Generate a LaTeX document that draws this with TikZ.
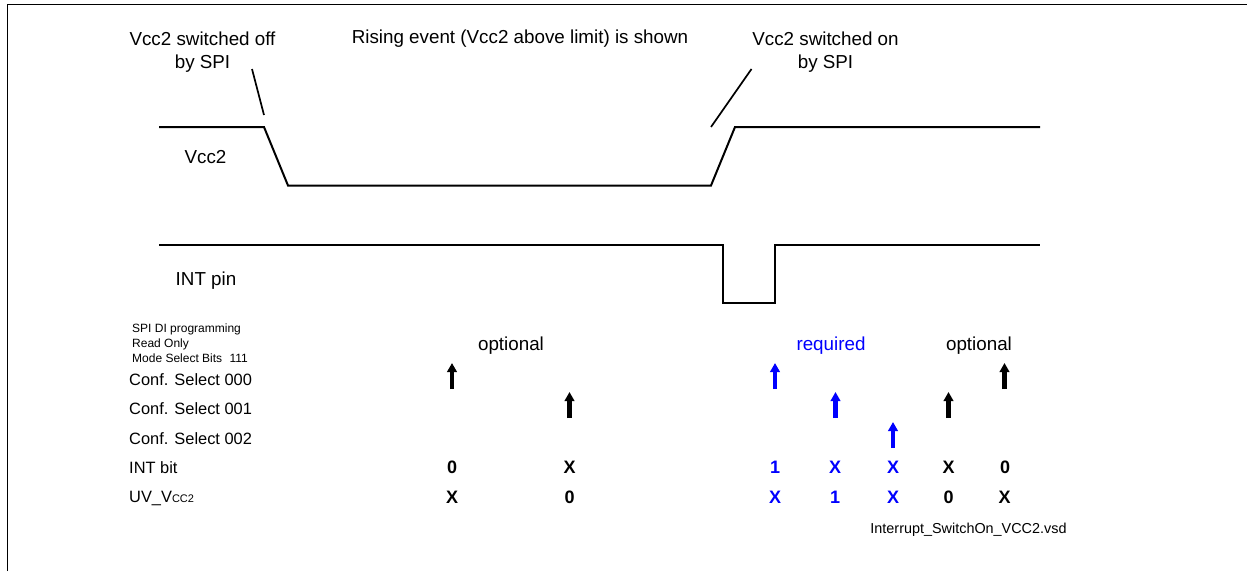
\documentclass[tikz,border=0pt]{standalone}
\usepackage{fontspec}
\setmainfont{Liberation Sans}
\usetikzlibrary{arrows.meta}
\definecolor{reqblue}{RGB}{0,0,255}
\tikzset{
 x=1pt,y=-1pt,
 lbl/.style={inner sep=0pt,font=\fontsize{18.8}{22.5}\selectfont,align=center},
 rowlbl/.style={inner sep=0pt,font=\fontsize{16.4}{19}\selectfont,anchor=west},
 small/.style={inner sep=0pt,font=\fontsize{12}{14}\selectfont,anchor=west},
 val/.style={inner sep=0pt,font=\fontsize{18}{21}\selectfont\bfseries},
 wave/.style={line width=2pt,line join=miter},
 leader/.style={line width=1.7pt},
 up/.style={line width=4.6pt,-{Triangle[width=9.5pt,length=9pt]}},
}
\begin{document}
\begin{tikzpicture}
\useasboundingbox (0,0) rectangle (1247,571);
\draw[line width=1pt] (7,571) -- (7,4.5) -- (1247,4.5);
\node[lbl] (off) at (202.5,52) {Vcc2 switched off\\by SPI};
\node[lbl] (ris) at (520,39) {Rising event (Vcc2 above limit) is shown};
\node[lbl] (on) at (825.5,52) {Vcc2 switched on\\by SPI};
\coordinate (la) at (252,69); \coordinate (lb) at (264,115);
\draw[leader] (la) -- (lb);
\coordinate (lc) at (751.5,69); \coordinate (ld) at (711,127);
\draw[leader] (lc) -- (ld);
\coordinate (w0) at (159,127); \coordinate (w1) at (264,127); \coordinate (w2) at (288,185.5);
\coordinate (w3) at (711,185.5); \coordinate (w4) at (735,127); \coordinate (w5) at (1040,127);
\draw[wave] (w0) -- (w1) -- (w2) -- (w3) -- (w4) -- (w5);
\coordinate (i0) at (159,244.5); \coordinate (i1) at (723,244.5); \coordinate (i2) at (723,303);
\coordinate (i3) at (775,303); \coordinate (i4) at (775,244.5); \coordinate (i5) at (1040,244.5);
\draw[wave] (i0) -- (i1) -- (i2) -- (i3) -- (i4) -- (i5);
\node[lbl] (vcc) at (205.5,157) {Vcc2};
\node[lbl] (intp) at (206,280.5) {INT pin};
\node[small] (s1) at (132,329) {SPI DI programming};
\node[small] (s2) at (132,344.5) {Read Only};
\node[small] (s3) at (132,358.5) {Mode Select Bits\hspace{4pt} 111};
\node[rowlbl] (c0) at (129,380) {Conf. Select 000};
\node[rowlbl] (c1) at (129,409) {Conf. Select 001};
\node[rowlbl] (c2) at (129,439) {Conf. Select 002};
\node[rowlbl] (ib) at (129,468) {INT bit};
\node[rowlbl] (uv) at (129,498) {UV\_V{\fontsize{11}{13}\selectfont CC2}};
\node[lbl] (o1) at (511,346) {optional};
\node[lbl,text=reqblue] (rq) at (831,346) {required};
\node[lbl] (o2) at (979,346) {optional};
\foreach \n/\x/\yy/\c in {a/452/389/black,b/569.5/418/black,c/775/389/reqblue,d/835.5/418/reqblue,e/893/448/reqblue,f/948.5/418/black,g/1004.5/389/black}{
  \coordinate (\n b) at (\x,\yy);
  \coordinate (\n t) at (\x,\yy-26);
  \draw[up,draw=\c,fill=\c] (\n b) -- (\n t);
}
\foreach \n/\x/\yy/\t/\c in {
 p1/452/467/0/black,p2/569.5/467/X/black,p3/775/467/1/reqblue,p4/835/467/X/reqblue,p5/893/467/X/reqblue,p6/948.5/467/X/black,p7/1005/467/0/black,
 q1/452/497/X/black,q2/569.5/497/0/black,q3/775/497/X/reqblue,q4/835/497/1/reqblue,q5/893/497/X/reqblue,q6/948.5/497/0/black,q7/1004.5/497/X/black}{
  \node[val,text=\c] (\n) at (\x,\yy) {\t};
}
\node[inner sep=0pt,font=\fontsize{14.4}{16}\selectfont] (fn) at (968.5,530) {Interrupt\_SwitchOn\_VCC2.vsd};
\end{tikzpicture}
\end{document}
